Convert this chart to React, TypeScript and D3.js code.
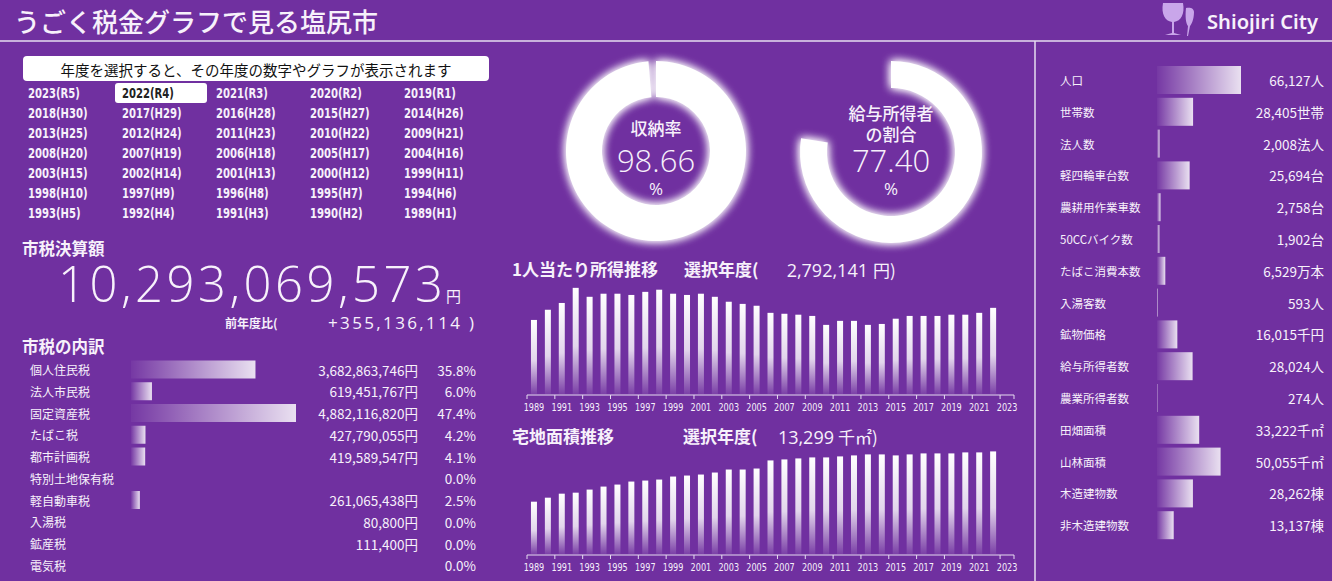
import * as d3 from 'd3'

const W = 1332
const H = 581
const BG = '#7030A0'
const FG = '#F7F1FB'
const LINE = '#E6DCF0'
const JP = '"Noto Sans CJK JP", "Noto Sans", sans-serif'
const NUM = '"Open Sans", "Noto Sans", sans-serif'
const NARROW = '"Liberation Sans Narrow", "DejaVu Sans Condensed", sans-serif'

const yearOptions = [
  '2023(R5)', '2022(R4)', '2021(R3)', '2020(R2)', '2019(R1)',
  '2018(H30)', '2017(H29)', '2016(H28)', '2015(H27)', '2014(H26)',
  '2013(H25)', '2012(H24)', '2011(H23)', '2010(H22)', '2009(H21)',
  '2008(H20)', '2007(H19)', '2006(H18)', '2005(H17)', '2004(H16)',
  '2003(H15)', '2002(H14)', '2001(H13)', '2000(H12)', '1999(H11)',
  '1998(H10)', '1997(H9)', '1996(H8)', '1995(H7)', '1994(H6)',
  '1993(H5)', '1992(H4)', '1991(H3)', '1990(H2)', '1989(H1)',
]
const selectedYear = '2022(R4)'

const cityTaxTotal = 10293069573
const prevYearDiff = 355136114

const taxItems = ['個人住民税', '法人市民税', '固定資産税', 'たばこ税', '都市計画税', '特別土地保有税', '軽自動車税', '入湯税', '鉱産税', '電気税']
const taxAmounts: (number | null)[] = [3682863746, 619451767, 4882116820, 427790055, 419589547, null, 261065438, 80800, 111400, null]
const taxShares = [35.8, 6.0, 47.4, 4.2, 4.1, 0.0, 2.5, 0.0, 0.0, 0.0]

const collectionRate = 98.66
const salaryEarnerShare = 77.4

const trendYears = [
  1989, 1990, 1991, 1992, 1993, 1994, 1995, 1996, 1997, 1998, 1999, 2000,
  2001, 2002, 2003, 2004, 2005, 2006, 2007, 2008, 2009, 2010, 2011, 2012,
  2013, 2014, 2015, 2016, 2017, 2018, 2019, 2020, 2021, 2022, 2023,
]
// 1人当たり所得 (千円), 1989-2022
const incomePerCapita = [
  2400, 2730, 2950, 3440, 3150, 3250, 3250, 3210, 3310, 3380, 3250, 3210,
  3250, 3150, 2990, 2920, 2860, 2630, 2600, 2570, 2530, 2240, 2370, 2370,
  2240, 2270, 2440, 2530, 2530, 2530, 2570, 2570, 2630, 2792.141,
]
const selectedIncome = 2792141
// 宅地面積 (千㎡), 1989-2022
const residentialArea = [
  6780, 7300, 7820, 7950, 8350, 8740, 9000, 9390, 9520, 9650, 10040, 10170,
  10300, 10560, 10950, 10950, 11080, 12130, 12260, 12390, 12520, 12520, 12650, 12780,
  12910, 12910, 12780, 12910, 13040, 13040, 13040, 13170, 13170, 13299,
]
const selectedArea = 13299

const statNames = ['人口', '世帯数', '法人数', '軽四輪車台数', '農耕用作業車数', '50CCバイク数', 'たばこ消費本数', '入湯客数', '鉱物価格', '給与所得者数', '農業所得者数', '田畑面積', '山林面積', '木造建物数', '非木造建物数']
const statValues = [66127, 28405, 2008, 25694, 2758, 1902, 6529, 593, 16015, 28024, 274, 33222, 50055, 28262, 13137]
const statUnits = ['人', '世帯', '法人', '台', '台', '台', '万本', '人', '千円', '人', '人', '千㎡', '千㎡', '棟', '棟']

const fmt = d3.format(',')

function Donut({ cx, cy, rIn, rOut, value, labels }: { cx: number; cy: number; rIn: number; rOut: number; value: number; labels: string[] }) {
  const arc = d3.arc()({ innerRadius: rIn, outerRadius: rOut, startAngle: 0, endAngle: (2 * Math.PI * value) / 100 }) || ''
  const labelTop = labels.length > 1 ? 120 : 135
  return (
    <g transform={`translate(${cx},${cy})`}>
      <path d={arc} fill="#fff" filter="url(#glow)" />
      {labels.map((l, i) => (
        <text key={l} x={0} y={labelTop - cy + i * 21} textAnchor="middle" fill={FG} fontFamily={JP} fontSize={17} fontWeight={500}>
          {l}
        </text>
      ))}
      <text x={0} y={172 - cy} textAnchor="middle" fill={FG} fontFamily={NUM} fontWeight={300} fontSize={31}>
        {value.toFixed(2)}
      </text>
      <text x={0} y={195 - cy} textAnchor="middle" fill={FG} fontFamily={NUM} fontSize={17}>
        %
      </text>
    </g>
  )
}

function TrendChart({ values, axisY, max }: { values: number[]; axisY: number; max: number }) {
  const x = d3.scaleBand<number>().domain(trendYears).range([527, 1014]).padding(0)
  const y = d3.scaleLinear().domain([0, max]).range([axisY - 1, axisY - 109])
  const step = x.step()
  const ticks = trendYears.filter((_, i) => i % 2 === 0)
  return (
    <g>
      {values.map((v, i) => {
        const yr = trendYears[i]
        return <rect key={yr} x={(x(yr) || 0) + step / 2 - 3} y={y(v)} width={6} height={y(0) - y(v)} fill="url(#barV)" />
      })}
      <line x1={527} x2={1014} y1={axisY} y2={axisY} stroke={LINE} strokeWidth={1} />
      {ticks.map((yr) => (
        <line key={yr} x1={x(yr) || 0} x2={x(yr) || 0} y1={axisY} y2={axisY + 4} stroke={LINE} />
      ))}
      <line x1={1014} x2={1014} y1={axisY} y2={axisY + 4} stroke={LINE} />
      {ticks.map((yr) => (
        <g key={yr} transform={`translate(${(x(yr) || 0) + step / 2},${axisY + 16}) scale(0.82,1)`}>
          <text x={0} y={0} textAnchor="middle" fill={FG} fontFamily={NARROW} fontSize={11}>
            {yr}
          </text>
        </g>
      ))}
    </g>
  )
}

export default function App() {
  const xTax = d3.scaleLinear().domain([0, d3.max(taxAmounts, (d) => d || 0) || 1]).range([0, 165])
  const xStat = d3.scaleLinear().domain([0, d3.max(statValues) || 1]).range([0, 84])
  const incMax = 3500
  const areaMax = 14000

  return (
    <div style={{ position: 'fixed', left: 0, top: 0 }}>
      <svg width={W} height={H} style={{ display: 'block' }}>
        <defs>
          <filter id="glow" x="-30%" y="-30%" width="160%" height="160%">
            <feGaussianBlur in="SourceGraphic" stdDeviation={5} result="b" />
            <feMerge>
              <feMergeNode in="b" />
              <feMergeNode in="b" />
              <feMergeNode in="SourceGraphic" />
            </feMerge>
          </filter>
          <linearGradient id="barH" x1="0" x2="1" y1="0" y2="0">
            <stop offset="0%" stopColor="#fff" stopOpacity={0.04} />
            <stop offset="100%" stopColor="#fff" stopOpacity={0.85} />
          </linearGradient>
          <linearGradient id="barV" x1="0" x2="0" y1="0" y2="1">
            <stop offset="0%" stopColor="#fff" stopOpacity={1} />
            <stop offset="55%" stopColor="#fff" stopOpacity={0.8} />
            <stop offset="100%" stopColor="#fff" stopOpacity={0.08} />
          </linearGradient>
        </defs>
        <rect width={W} height={H} fill={BG} />

        {/* header */}
        <text x={14} y={32} fill={FG} fontFamily={JP} fontSize={26} fontWeight={500}>
          うごく税金グラフで見る塩尻市
        </text>
        <g fill="#C9A6EA">
          <path d="M1163,3 L1183,3 C1185,14 1181,21 1174,22 L1174,33 L1181,35 L1165,35 L1172,33 L1172,22 C1165,21 1161,14 1163,3 Z" />
          <path d="M1186,8 C1190,7 1194,8 1194,12 C1194,20 1191,25 1190,26 L1188,36 L1187,36 L1188,26 C1186,24 1185,17 1186,8 Z" />
        </g>
        <text x={1207} y={29} fill={FG} fontFamily={'"Noto Sans", sans-serif'} fontSize={19} fontWeight={600} textLength={111} lengthAdjust="spacingAndGlyphs">
          Shiojiri City
        </text>
        <line x1={0} x2={W} y1={41} y2={41} stroke={LINE} strokeWidth={1.5} />
        <line x1={1035} x2={1035} y1={41} y2={H} stroke={LINE} strokeWidth={1.5} />

        {/* year selector */}
        <rect x={23} y={56} width={466} height={25} rx={4} fill="#fff" />
        <text x={256} y={69} textAnchor="middle" dominantBaseline="central" fill="#111" fontFamily={JP} fontSize={14.5}>
          年度を選択すると、その年度の数字やグラフが表示されます
        </text>
        {yearOptions.map((label, i) => {
          const col = i % 5
          const row = Math.floor(i / 5)
          const tx = 28 + col * 94
          const ty = 93 + row * 20
          const sel = label === selectedYear
          return (
            <g key={label}>
              {sel && <rect x={tx - 7} y={ty - 10} width={92} height={20} rx={3} fill="#fff" />}
              <g transform={`translate(${tx},${ty}) scale(0.8,1)`}>
                <text x={0} y={0} dominantBaseline="central" fill={sel ? '#222' : FG} fontFamily={NARROW} fontSize={14} fontWeight={600}>
                  {label}
                </text>
              </g>
            </g>
          )
        })}

        {/* total */}
        <text x={22} y={255} fill={FG} fontFamily={JP} fontSize={16.5} fontWeight={700}>
          市税決算額
        </text>
        <text x={58} y={302} fill={FG} fontFamily={NUM} fontWeight={300} fontSize={49} textLength={385} lengthAdjust="spacing">
          {fmt(cityTaxTotal)}
        </text>
        <text x={446} y={302} fill={FG} fontFamily={JP} fontSize={15}>
          円
        </text>
        <text x={225} y={328} fill={FG} fontFamily={JP} fontSize={12} fontWeight={700}>
          前年度比(
        </text>
        <text x={328} y={329} fill={FG} fontFamily={NUM} fontSize={17} textLength={132} lengthAdjust="spacing">
          {(prevYearDiff >= 0 ? '+' : '') + fmt(prevYearDiff)}
        </text>
        <text x={469} y={329} fill={FG} fontFamily={NUM} fontSize={17}>
          )
        </text>

        {/* breakdown */}
        <text x={22} y={353} fill={FG} fontFamily={JP} fontSize={16.5} fontWeight={700}>
          市税の内訳
        </text>
        {taxItems.map((name, i) => {
          const cy = 369.5 + i * 21.75
          const amt = taxAmounts[i]
          return (
            <g key={name}>
              <text x={30} y={cy} dominantBaseline="central" fill={FG} fontFamily={JP} fontSize={12}>
                {name}
              </text>
              {amt != null && amt > 0 && <rect x={131} y={cy - 9} width={xTax(amt)} height={18} fill="url(#barH)" />}
              {amt != null && (
                <text x={418} y={cy} textAnchor="end" dominantBaseline="central" fill={FG} fontFamily={JP} fontSize={13.5}>
                  {fmt(amt)}円
                </text>
              )}
              <text x={476} y={cy} textAnchor="end" dominantBaseline="central" fill={FG} fontFamily={JP} fontSize={13.5}>
                {taxShares[i].toFixed(1)}%
              </text>
            </g>
          )
        })}

        {/* donuts */}
        <Donut cx={656} cy={151} rIn={54} rOut={90} value={collectionRate} labels={['収納率']} />
        <Donut cx={891} cy={152} rIn={64} rOut={91} value={salaryEarnerShare} labels={['給与所得者', 'の割合']} />

        {/* income trend */}
        <text x={512} y={276} fill={FG} fontFamily={JP} fontSize={17} fontWeight={700}>
          1人当たり所得推移
        </text>
        <text x={684} y={276} fill={FG} fontFamily={JP} fontSize={17} fontWeight={700}>
          選択年度(
        </text>
        <text x={868} y={277} textAnchor="end" fill={FG} fontFamily={NUM} fontSize={18}>
          {fmt(selectedIncome)}
        </text>
        <text x={873} y={277} fill={FG} fontFamily={JP} fontSize={17}>
          円)
        </text>
        <TrendChart values={incomePerCapita} axisY={395} max={incMax} />

        {/* residential area trend */}
        <text x={512} y={443} fill={FG} fontFamily={JP} fontSize={17} fontWeight={700}>
          宅地面積推移
        </text>
        <text x={683} y={443} fill={FG} fontFamily={JP} fontSize={17} fontWeight={700}>
          選択年度(
        </text>
        <text x={834} y={444} textAnchor="end" fill={FG} fontFamily={NUM} fontSize={18}>
          {fmt(selectedArea)}
        </text>
        <text x={838} y={444} fill={FG} fontFamily={JP} fontSize={17}>
          千㎡)
        </text>
        <TrendChart values={residentialArea} axisY={555} max={areaMax} />

        {/* right panel */}
        {statNames.map((name, i) => {
          const cy = 80 + i * 31.8
          const v = statValues[i]
          return (
            <g key={name}>
              <text x={1060} y={cy} dominantBaseline="central" fill={FG} fontFamily={JP} fontSize={11.5}>
                {name}
              </text>
              <rect x={1157} y={cy - 14} width={xStat(v)} height={28} fill="url(#barH)" />
              <text x={1324} y={cy} textAnchor="end" dominantBaseline="central" fill={FG} fontFamily={JP} fontSize={13.5}>
                {fmt(v)}
                {statUnits[i]}
              </text>
            </g>
          )
        })}
      </svg>
    </div>
  )
}
